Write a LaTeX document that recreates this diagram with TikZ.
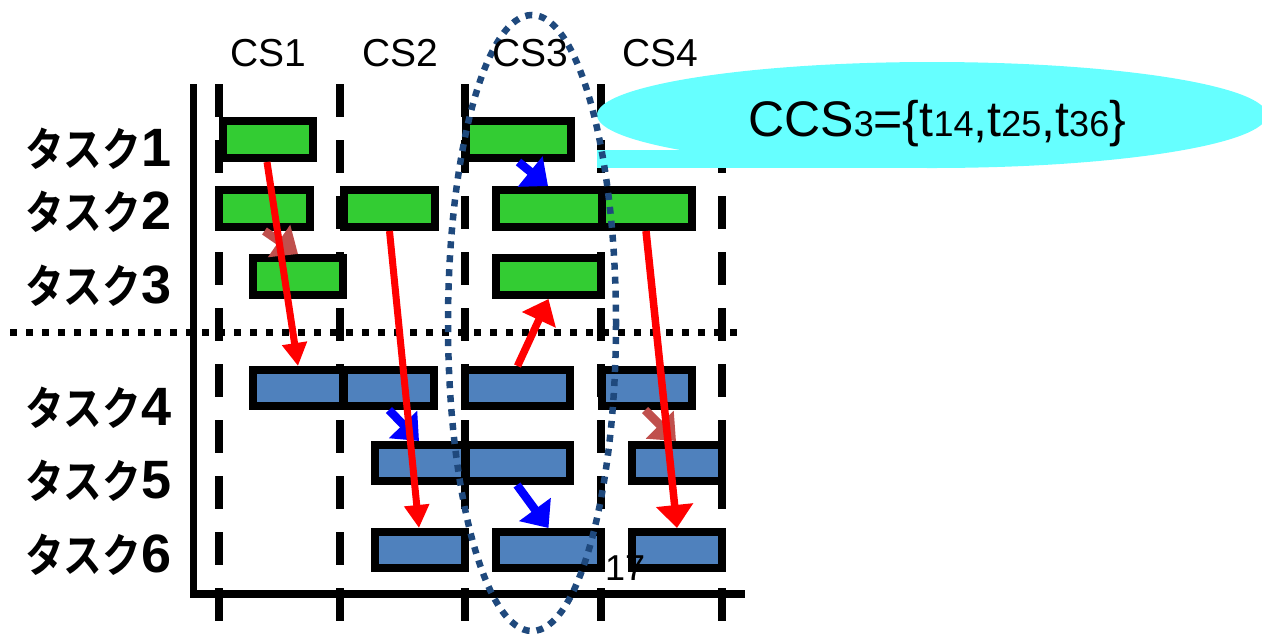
\documentclass[tikz,border=0pt]{standalone}
\usepackage{fontspec}
\usepackage{graphicx}
\setmainfont{Liberation Sans}
\newfontfamily\jpfont{Noto Sans CJK JP}[BoldFont={Noto Sans CJK JP Bold}]
\usetikzlibrary{arrows.meta,shapes.geometric}
\definecolor{gfill}{HTML}{33CC33}
\definecolor{bfill}{HTML}{4F81BD}
\definecolor{brownc}{HTML}{C0504D}
\definecolor{cyanc}{HTML}{66FFFF}
\definecolor{navyc}{HTML}{1F497D}
\tikzset{
  colline/.style={line width=8pt, dash pattern=on 33pt off 23pt},
  gbox/.style={rectangle, draw=black, fill=gfill, line width=8pt, inner sep=0pt, outer sep=4pt},
  bbox/.style={rectangle, draw=black, fill=bfill, line width=8pt, inner sep=0pt, outer sep=4pt},
  redarr/.style={draw=red, line width=7pt, -{Triangle[width=24pt,length=23pt]}},
  redbig/.style={draw=red, line width=7.5pt, -{Triangle[width=36pt,length=23pt]}},
  bluearr/.style={draw=blue, fill=blue, line width=8.5pt, -{Triangle[width=38pt,length=23pt]}},
  brownarr/.style={draw=brownc, line width=8.5pt, -{Triangle[width=38pt,length=23pt]}},
  lbl/.style={inner sep=0pt},
}
\newcommand\jplab[1]{\scalebox{0.84}[1]{\jpfont\bfseries\fontsize{46}{46}\selectfont タスク}{\fontsize{54}{54}\selectfont\bfseries #1}}
\newcommand\smallnum[1]{{\fontsize{36}{36}\selectfont #1}}
\begin{document}
\begin{tikzpicture}[x=1pt,y=-1pt]
\useasboundingbox (0,0) rectangle (1262,633);
% column dashed lines
\foreach \cx/\nm in {219/c0,340/c1,465/c2,601/c3,722/c4}{
  \coordinate (\nm top) at (\cx,84);
  \coordinate (\nm bot) at (\cx,621);
  \draw[colline] (\nm top) -- (\nm bot);
}
% axes
\coordinate (ytop) at (193.5,84);
\coordinate (origin) at (193.5,597.5);
\coordinate (axleft) at (190,593.5);
\coordinate (xend) at (745,593.5);
\draw[line width=7pt] (ytop) -- (origin);
\draw[line width=8pt] (axleft) -- (xend);
% dotted separator
\coordinate (sepL) at (10,332);
\coordinate (sepR) at (737,332);
\draw[line width=7pt, dash pattern=on 7pt off 9pt] (sepL) -- (sepR);
% callout
\node[ellipse, fill=cyanc, minimum width=670pt, minimum height=106pt, inner sep=0pt] (callout) at (932,115) {};
\fill[cyanc] (597,150) rectangle (932,168);
% green boxes
\node[gbox, minimum width=90pt, minimum height=37pt] (t11) at (268,139.5) {};
\node[gbox, minimum width=91pt, minimum height=37pt] (t21) at (264.5,208.5) {};
\node[gbox, minimum width=91pt, minimum height=37pt] (t22) at (389.5,208.5) {};
\node[gbox, minimum width=90pt, minimum height=37pt] (t31) at (298,276.5) {};
\node[gbox, minimum width=105pt, minimum height=37pt] (t13) at (518.5,139.5) {};
\node[gbox, minimum width=106pt, minimum height=37pt] (t23) at (549,208.5) {};
\node[gbox, minimum width=90pt, minimum height=37pt] (t24) at (647,208.5) {};
\node[gbox, minimum width=105pt, minimum height=37pt] (t33) at (548.5,276.5) {};
% blue boxes
\node[bbox, minimum width=90pt, minimum height=36pt] (t41) at (298,388) {};
\node[bbox, minimum width=90pt, minimum height=36pt] (t42) at (389,388) {};
\node[bbox, minimum width=105pt, minimum height=36pt] (t43) at (517.5,388) {};
\node[bbox, minimum width=90pt, minimum height=36pt] (t44) at (647,388) {};
\node[bbox, minimum width=90pt, minimum height=36pt] (t52) at (420,463) {};
\node[bbox, minimum width=104pt, minimum height=36pt] (t53) at (518,463) {};
\node[bbox, minimum width=90pt, minimum height=36pt] (t54) at (677,463) {};
\node[bbox, minimum width=90pt, minimum height=36pt] (t62) at (420,550) {};
\node[bbox, minimum width=105pt, minimum height=36pt] (t63) at (548.5,550) {};
\node[bbox, minimum width=90pt, minimum height=36pt] (t64) at (677,550) {};
% short arrows
\draw[brownarr] (t21.south) -- (t31.north);
\draw[brownarr] ([xshift=-2pt]t44.south) -- ([xshift=-1pt]t54.north);
\draw[bluearr] (t13.south) -- ([xshift=-1pt]t23.north);
\draw[bluearr] (t42.south) -- ([xshift=-1pt]t52.north);
\draw[bluearr] ([xshift=-1pt]t53.south) -- (t63.north);
% red arrows
\draw[redarr] ([xshift=-1pt]t11.south) -- (t41.north);
\draw[redarr] (t22.south) -- ([xshift=-1pt]t62.north);
\draw[redbig] (t43.north) -- (t33.south);
\draw[redbig] ([xshift=-1pt]t24.south) -- (t64.north);
% dotted ellipse
\draw[navyc, line width=6.5pt, dash pattern=on 7pt off 7pt] (532,323) ellipse [x radius=84, y radius=308];
% texts
\node[lbl, anchor=base] (cs1) at (268,66) {\fontsize{39}{39}\selectfont CS1};
\node[lbl, anchor=base] (cs2) at (400,66) {\fontsize{39}{39}\selectfont CS2};
\node[lbl, anchor=base] (cs3) at (530,66) {\fontsize{39}{39}\selectfont CS3};
\node[lbl, anchor=base] (cs4) at (660,66) {\fontsize{39}{39}\selectfont CS4};
\node[lbl, anchor=base west] (lab1) at (25,166) {\jplab{1}};
\node[lbl, anchor=base west] (lab2) at (25,229) {\jplab{2}};
\node[lbl, anchor=base west] (lab3) at (25,303) {\jplab{3}};
\node[lbl, anchor=base west] (lab4) at (25,425) {\jplab{4}};
\node[lbl, anchor=base west] (lab5) at (25,498) {\jplab{5}};
\node[lbl, anchor=base west] (lab6) at (25,572) {\jplab{6}};
\node[lbl, anchor=base west] (ccs) at (748,136) {\fontsize{50}{50}\selectfont CCS\smallnum{3}=\{t\smallnum{14},t\smallnum{25},t\smallnum{36}\}};
\node[lbl, anchor=base west] (pagenum) at (605,580) {\fontsize{36}{36}\selectfont 17};
\end{tikzpicture}
\end{document}
